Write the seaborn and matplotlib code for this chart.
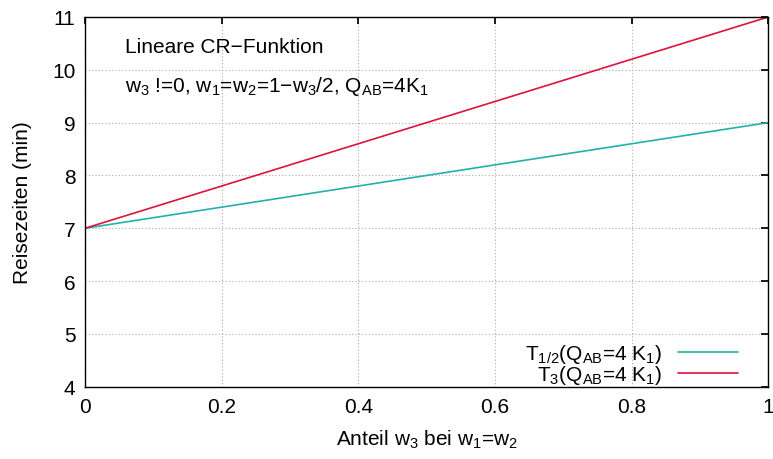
import matplotlib
matplotlib.use("Agg")
import matplotlib.pyplot as plt
import seaborn as sns
import numpy as np
import pandas as pd

w3 = [0.0, 1.0]
t12 = [7.0, 9.0]
t3 = [7.0, 11.0]
labels = [r"T$_{1/2}$(Q$_{\rm AB}$=4 K$_1$)", r"T$_3$(Q$_{\rm AB}$=4 K$_1$)"]
colors = ["#20b2aa", "#dc143c"]

sns.set_theme(style="white")
plt.rcParams['font.family'] = ['Liberation Sans', 'DejaVu Sans']
plt.rcParams['mathtext.fontset'] = 'custom'
plt.rcParams['mathtext.rm'] = 'Liberation Sans'
plt.rcParams['mathtext.it'] = 'Liberation Sans'
plt.rcParams['mathtext.default'] = 'regular'
plt.rcParams['text.color'] = 'black'
plt.rcParams['axes.labelcolor'] = 'black'

df = pd.DataFrame({
    "w3": w3 + w3,
    "T": t12 + t3,
    "series": [labels[0]] * 2 + [labels[1]] * 2,
})

fs = 15
fig = plt.figure(figsize=(7.73, 4.60), dpi=100)
ax = fig.add_axes([0.110, 0.157, 0.884, 0.804])
sns.lineplot(data=df, x="w3", y="T", hue="series", palette=colors, ax=ax, linewidth=1.2)

ax.set_xlim(0, 1)
ax.set_ylim(4, 11)
ax.set_xticks([0, 0.2, 0.4, 0.6, 0.8, 1.0])
ax.set_xticklabels(["0", "0.2", "0.4", "0.6", "0.8", "1"])
ax.set_yticks(range(4, 12))
ax.grid(True, color="#aaaaaa", linestyle=(0, (1, 2)), linewidth=0.8)
for s in ax.spines.values():
    s.set_color("black")
    s.set_linewidth(1.0)
ax.tick_params(direction="in", length=5, top=True, right=True, labelsize=fs, colors="black", pad=7)
ax.set_xlabel(r"Anteil w$_3$ bei w$_1$=w$_2$", fontsize=fs, labelpad=9)
ax.set_ylabel("Reisezeiten (min)", fontsize=fs, labelpad=14)

ax.text(0.058, 0.945, "Lineare CR\u2212Funktion", transform=ax.transAxes, fontsize=fs, va="top")
ax.text(0.058, 0.847, r"w$_3$ !=0, w$_1$=w$_2$=1$-$w$_3$/2, Q$_{AB}$=4K$_1$", transform=ax.transAxes, fontsize=fs, va="top")

ax.legend(loc="lower right", frameon=False, markerfirst=False, fontsize=fs,
          handlelength=2.9, labelspacing=-0.1, borderaxespad=0.0, handletextpad=0.75,
          bbox_to_anchor=(0.968, -0.02))

fig.savefig("out.png", dpi=100)
